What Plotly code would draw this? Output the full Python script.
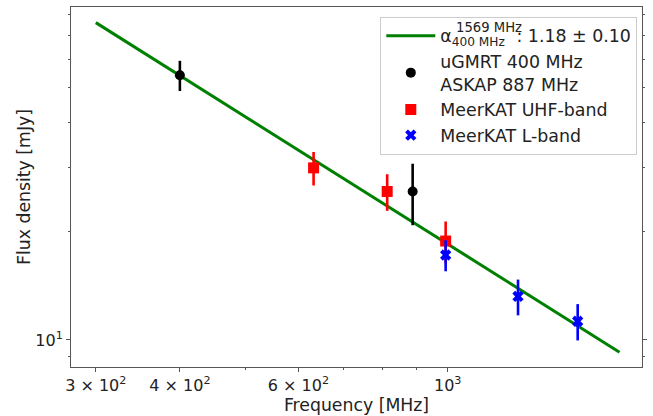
import plotly.graph_objects as go
import numpy as np

# Fit line endpoints
fit_x = [300, 1800]
fit_y = [75.8, 9.25]

# uGMRT 400 MHz + ASKAP 887 MHz
black_x = [400, 887]
black_y = [54.2, 25.8]
black_err = [5.2, 5.0]

# MeerKAT UHF-band
red_x = [632, 813, 993]
red_y = [30.0, 25.8, 18.8]
red_err = [3.2, 3.0, 2.5]

# MeerKAT L-band
blue_x = [993, 1272, 1560]
blue_y = [17.2, 13.2, 11.27]
blue_err = [1.7, 1.5, 1.3]

x_tickvals = [300, 400, 600, 1000]
x_ticktext = ["3 × 10<sup>2</sup>", "4 × 10<sup>2</sup>", "6 × 10<sup>2</sup>", "10<sup>3</sup>"]
y_tickvals = [10]
y_ticktext = ["10<sup>1</sup>"]

fit_label_sub = "400 MHz"
fit_label_sup = "1569 MHz"
fit_label_rest = ": 1.18 ± 0.10"

FONT = "DejaVu Sans"
AX = "#555555"
W, H = 653, 416
ML, MR, MT, MB = 71, 6, 6, 46
PW, PH = W - ML - MR, H - MT - MB


def px_x(px):
    return (px - ML) / PW


def px_y(py):
    return (H - MB - py) / PH


LEG_FS = 17.4
ITEMW = 49

fig = go.Figure()
fig.add_trace(go.Scatter(
    x=fit_x, y=fit_y, mode="lines",
    line=dict(color="green", width=3),
    name="α<sub>" + fit_label_sub + "\u00a0\u00a0\u00a0</sub>" + fit_label_rest))
fig.add_trace(go.Scatter(
    x=black_x, y=black_y, mode="markers",
    marker=dict(symbol="circle", size=10, color="black"),
    error_y=dict(type="data", array=black_err, color="black", thickness=2.6, width=0),
    name="uGMRT 400 MHz<br>ASKAP 887 MHz"))
fig.add_trace(go.Scatter(
    x=red_x, y=red_y, mode="markers",
    marker=dict(symbol="square", size=11, color="red"),
    error_y=dict(type="data", array=red_err, color="red", thickness=2.6, width=0),
    name="MeerKAT UHF-band"))
fig.add_trace(go.Scatter(
    x=blue_x, y=blue_y, mode="markers",
    marker=dict(symbol="x", size=10, color="blue"),
    error_y=dict(type="data", array=blue_err, color="blue", thickness=2.6, width=0),
    name="MeerKAT L-band"))

x_minor = [500, 700, 800, 900, 2000]
y_minor = [9, 20, 30, 40, 50, 60, 70, 80]

LEG_LEFT = 383
LEG_TOP = 16

fig.add_annotation(
    xref="paper", yref="paper",
    x=px_x(LEG_LEFT + ITEMW + 14 + 11), y=px_y(27),
    xanchor="left", yanchor="middle",
    text=fit_label_sup, showarrow=False,
    font=dict(family=FONT, size=13.2, color="#222222"))

fig.update_layout(
    width=W, height=H,
    margin=dict(l=ML, r=MR, t=MT, b=MB),
    paper_bgcolor="white", plot_bgcolor="white",
    font=dict(family=FONT, size=16, color="#222222"),
    showlegend=True,
    legend=dict(
        x=px_x(LEG_LEFT), y=px_y(LEG_TOP), xanchor="left", yanchor="top",
        bgcolor="rgba(255,255,255,0.85)", bordercolor="#cccccc", borderwidth=1,
        font=dict(family=FONT, size=LEG_FS, color="#222222"),
        traceorder="normal", itemwidth=ITEMW,
    ),
    xaxis=dict(
        type="log", range=[np.log10(275.6), np.log10(1944)],
        tickmode="array", tickvals=x_tickvals, ticktext=x_ticktext,
        ticks="outside", ticklen=4, tickcolor=AX, tickwidth=1,
        showline=True, linecolor=AX, linewidth=1, mirror=True,
        showgrid=False, zeroline=False,
        tickfont=dict(family=FONT, size=16),
        title=dict(text="Frequency [MHz]", font=dict(family=FONT, size=17.3), standoff=3),
        minor=dict(tickmode="array", tickvals=x_minor, ticks="outside", ticklen=2, tickcolor=AX, showgrid=False),
    ),
    yaxis=dict(
        type="log", range=[0.925, 1.923],
        tickmode="array", tickvals=y_tickvals, ticktext=y_ticktext,
        ticks="outside", ticklen=4, tickcolor=AX, tickwidth=1,
        showline=True, linecolor=AX, linewidth=1, mirror="ticks",
        showgrid=False, zeroline=False,
        tickfont=dict(family=FONT, size=16),
        title=dict(text="Flux density [mJy]", font=dict(family=FONT, size=17.3), standoff=0),
        minor=dict(tickmode="array", tickvals=y_minor, ticks="outside", ticklen=2, tickcolor=AX, showgrid=False),
    ),
)

fig.write_html("out.html")
